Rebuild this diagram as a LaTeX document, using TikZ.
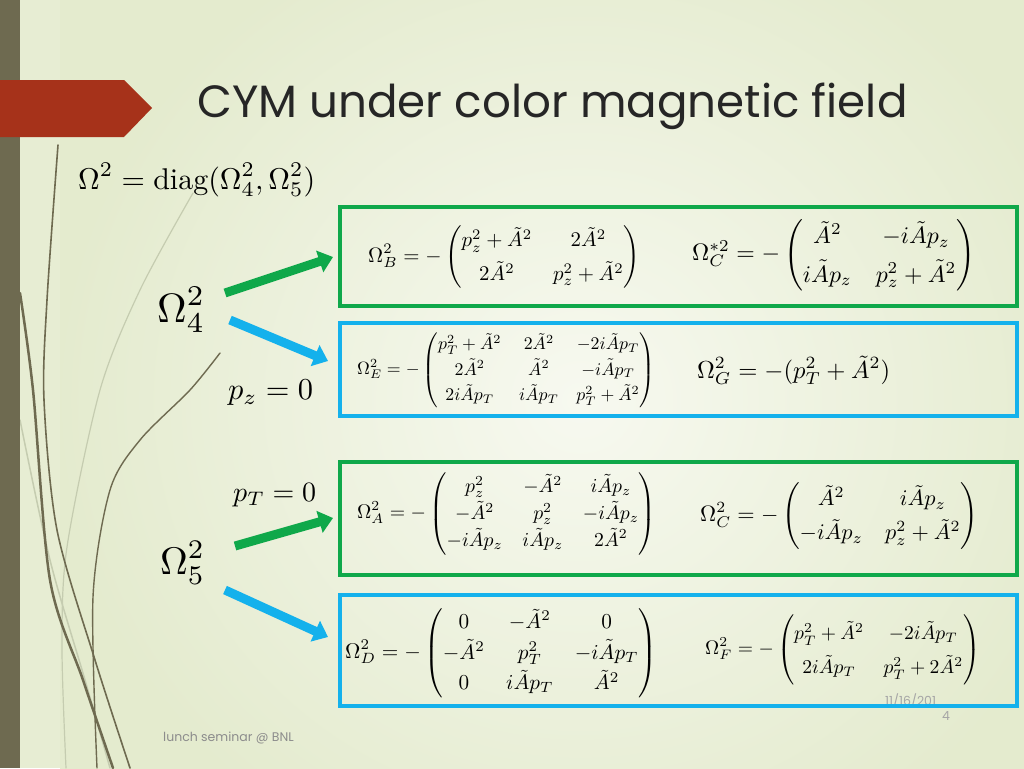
\documentclass[tikz,border=0pt]{standalone}
\usepackage{amsmath}
\usepackage{fontspec}
\newfontfamily\slidefont{Poppins}
\usetikzlibrary{arrows.meta}
\definecolor{bgin}{HTML}{F7F9F0}
\definecolor{bgout}{HTML}{DCE5C0}
\definecolor{barcol}{HTML}{6E6A50}
\definecolor{redban}{HTML}{A6321A}
\definecolor{gbox}{HTML}{0FA84A}
\definecolor{bbox}{HTML}{14B1EC}
\definecolor{curvedark}{HTML}{6E6A50}
\definecolor{curvelight}{HTML}{C5CCB0}
\newcommand{\fitw}[2]{\resizebox{#1pt}{!}{$\displaystyle #2$}}
\newcommand{\fitm}[3]{\resizebox{#1pt}{!}{\renewcommand{\arraystretch}{#2}$\displaystyle #3$}}
\tikzset{
  framebox/.style={draw=#1, line width=4pt, minimum width=677pt, minimum height=99pt, inner sep=0pt},
  bigarrow/.style={draw=#1, line width=9pt, -{Triangle[width=22pt,length=14pt]}},
  eqn/.style={inner sep=0pt, anchor=west},
  dcurve/.style={draw=curvedark, line cap=round},
  lcurve/.style={draw=curvelight, line cap=round},
}
\begin{document}
\begin{tikzpicture}[x=1pt,y=-1pt]
\useasboundingbox (0,0) rectangle (1024,768);
\fill[bgout!60!bgin] (0,0) rectangle (1024,768);
\shade[inner color=bgin, outer color=bgout!70!bgin] (60,-100) rectangle (1100,900);
% decorative curves
\draw[lcurve, line width=1.5pt] plot[smooth] coordinates {(20,420) (50,560) (85,680) (110,768)};
\draw[lcurve, line width=1.2pt] plot[smooth] coordinates {(193,193) (140,290) (100,390) (67,547) (62,647) (66,768)};
\draw[dcurve, line width=2.5pt] plot[smooth] coordinates {(20,293) (33,390) (50,580) (83,680) (113,768)};
\draw[dcurve, line width=1.6pt] plot[smooth] coordinates {(58,145) (47,300) (44,400) (57,530) (95,660) (130,768)};
\draw[dcurve, line width=1.4pt] plot[smooth] coordinates {(220,353) (190,390) (140,440) (110,490) (93,597) (97,768)};
% left bar
\fill[barcol] (0,0) rectangle (20,768);
% red banner
\fill[redban] (0,80) -- (124,80) -- (152,108) -- (124,137) -- (0,137) -- cycle;
% title
\node[anchor=base west, inner sep=0pt, text=black!85] (title) at (197,117)
  {\slidefont\fontsize{45.2}{50}\selectfont CYM under color magnetic field};
% footer
\node[anchor=base west, inner sep=0pt, text=black!45] (foot) at (163,741)
  {\slidefont\fontsize{12.5}{14}\selectfont lunch seminar @ BNL};
\node[anchor=base west, inner sep=0pt, text=black!35] (date) at (885,705)
  {\slidefont\fontsize{12.5}{14}\selectfont 11/16/201};
\node[anchor=base west, inner sep=0pt, text=black!35] (page) at (942,720)
  {\slidefont\fontsize{12.5}{14}\selectfont 4};
% left equations
\node[eqn] (diag) at (78,180) {\fitw{237}{\Omega^2=\mathrm{diag}(\Omega_4^2,\Omega_5^2)}};
\node[eqn] (om4) at (157,310) {\fitw{48}{\Omega_4^2}};
\node[eqn] (pz) at (228,393) {\fitw{85}{p_z=0}};
\node[eqn] (pt) at (233,495) {\fitw{83}{p_T=0}};
\node[eqn] (om5) at (160,563) {\fitw{45}{\Omega_5^2}};
% boxes
\node[framebox=gbox] (b1) at (678.5,256.5) {};
\node[framebox=bbox, minimum height=93pt] (b2) at (678.5,369.5) {};
\node[framebox=gbox, minimum height=113pt] (b3) at (678.5,518.5) {};
\node[framebox=bbox, minimum height=111pt] (b4) at (678.5,650.5) {};
% arrow coordinates
\coordinate (a1s) at (225,293); \coordinate (a1e) at (333,257);
\coordinate (a2s) at (230,320); \coordinate (a2e) at (328,361);
\coordinate (a3s) at (235,546); \coordinate (a3e) at (333,518);
\coordinate (a4s) at (225,590); \coordinate (a4e) at (328,637);
\draw[bigarrow=gbox] (a1s) -- (a1e);
\draw[bigarrow=bbox] (a2s) -- (a2e);
\draw[bigarrow=gbox] (a3s) -- (a3e);
\draw[bigarrow=bbox] (a4s) -- (a4e);
% box 1
\node[eqn] (eB) at (368,257) {\fitm{272}{1.35}{\Omega_B^2=-\begin{pmatrix} p_z^2+\tilde A^2 & 2\tilde A^2\\ 2\tilde A^2 & p_z^2+\tilde A^2\end{pmatrix}}};
\node[eqn] (eCs) at (692,255) {\fitm{283}{1.35}{\Omega_C^{*2}=-\begin{pmatrix} \tilde A^2 & -i\tilde A p_z\\ i\tilde A p_z & p_z^2+\tilde A^2\end{pmatrix}}};
% box 2
\node[eqn] (eE) at (357,370) {\fitm{298}{1.2}{\Omega_E^2=-\begin{pmatrix} p_T^2+\tilde A^2 & 2\tilde A^2 & -2i\tilde A p_T\\ 2\tilde A^2 & \tilde A^2 & -i\tilde A p_T\\ 2i\tilde A p_T & i\tilde A p_T & p_T^2+\tilde A^2\end{pmatrix}}};
\node[eqn] (eG) at (697,370) {\fitw{193}{\Omega_G^2=-(p_T^2+\tilde A^2)}};
% box 3
\node[eqn] (eA) at (357,514) {\fitm{299}{1.13}{\Omega_A^2=-\begin{pmatrix} p_z^2 & -\tilde A^2 & i\tilde A p_z\\ -\tilde A^2 & p_z^2 & -i\tilde A p_z\\ -i\tilde A p_z & i\tilde A p_z & 2\tilde A^2\end{pmatrix}}};
\node[eqn] (eC) at (700,516) {\fitm{278}{1.28}{\Omega_C^2=-\begin{pmatrix} \tilde A^2 & i\tilde A p_z\\ -i\tilde A p_z & p_z^2+\tilde A^2\end{pmatrix}}};
% box 4
\node[eqn] (eD) at (345,653) {\fitm{312}{1.2}{\Omega_D^2=-\begin{pmatrix} 0 & -\tilde A^2 & 0\\ -\tilde A^2 & p_T^2 & -i\tilde A p_T\\ 0 & i\tilde A p_T & \tilde A^2\end{pmatrix}}};
\node[eqn] (eF) at (705,650) {\fitm{275}{1.45}{\Omega_F^2=-\begin{pmatrix} p_T^2+\tilde A^2 & -2i\tilde A p_T\\ 2i\tilde A p_T & p_T^2+2\tilde A^2\end{pmatrix}}};
\end{tikzpicture}
\end{document}
